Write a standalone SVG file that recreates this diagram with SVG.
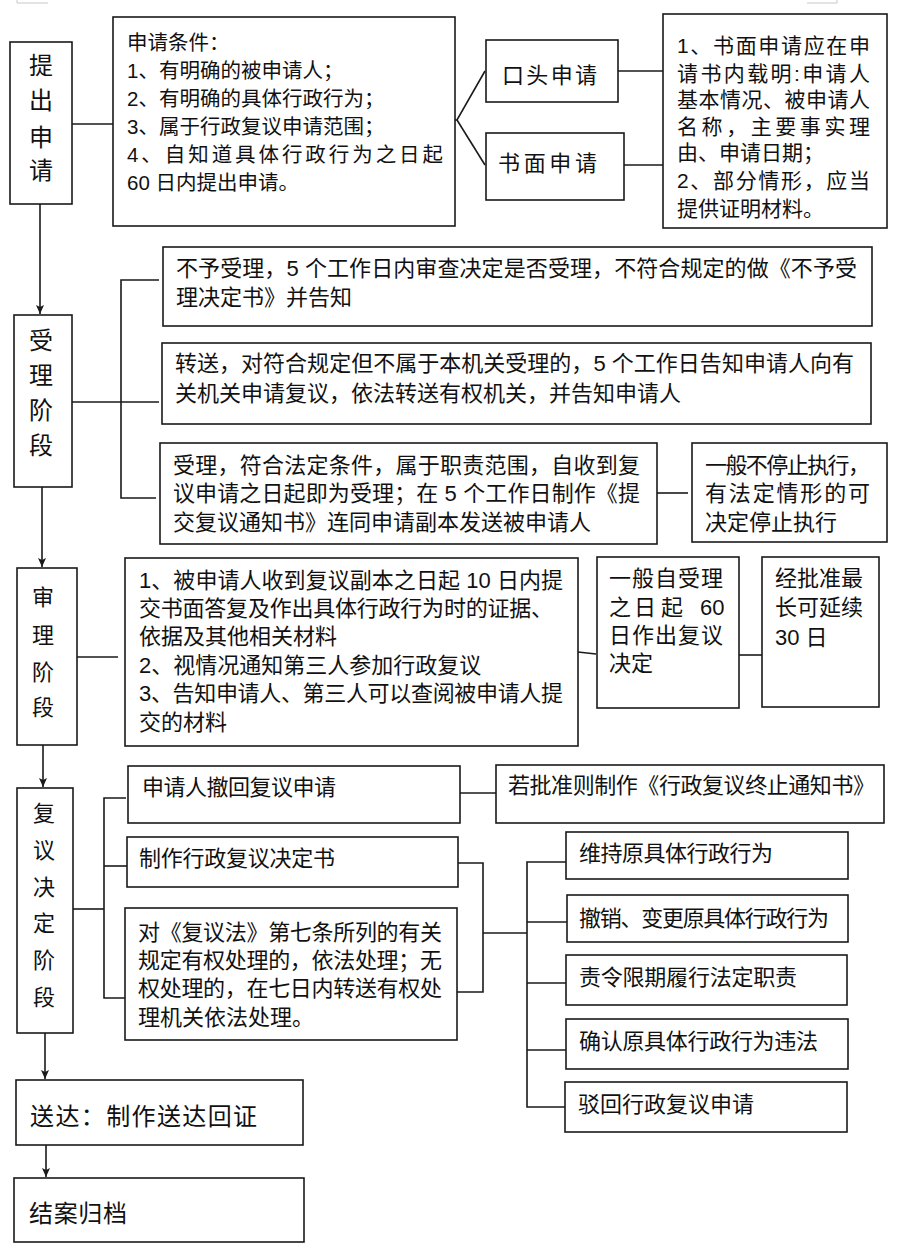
<svg xmlns="http://www.w3.org/2000/svg" width="900" height="1257" viewBox="0 0 900 1257">
<style>
.bx{fill:#fff;stroke:#1a1a1a;stroke-width:1.6}
.ln{fill:none;stroke:#1a1a1a;stroke-width:1.6}
.ar{fill:none;stroke:#1a1a1a;stroke-width:1.6;marker-end:url(#ah)}
text{font-family:"Liberation Sans","Noto Sans CJK SC","Noto Sans CJK JP",sans-serif;fill:#111;font-size:22px}
.s20{font-size:20.5px}
.s21{font-size:21px}
.s24{font-size:24px}
.v{text-anchor:middle;font-size:24px}
.v22{text-anchor:middle;font-size:22px}
</style>
<defs>
<marker id="ah" markerWidth="10" markerHeight="10" refX="9" refY="5" orient="auto" markerUnits="userSpaceOnUse">
<path d="M0,1 L9,5 L0,9 L2,5 Z" fill="#1a1a1a"/>
</marker>
</defs>
<rect width="900" height="1257" fill="#fff"/>
<g id="artifacts">
<polyline points="17,0 17,3 48,3" fill="none" stroke="#c8c8c8" stroke-width="1"/>
<polyline points="807,3 837,3 837,0" fill="none" stroke="#c8c8c8" stroke-width="1"/>
<rect x="391" y="312" width="2" height="2" fill="#5b9bd5"/>
</g>
<g id="connectors">
<line class="ln" x1="72" y1="124" x2="113" y2="124"/>
<polyline class="ln" points="455,120 457,120 485,71"/>
<line class="ln" x1="457" y1="120" x2="485" y2="165"/>
<line class="ln" x1="618" y1="71" x2="663" y2="71"/>
<line class="ln" x1="624" y1="165" x2="663" y2="165"/>
<line class="ar" x1="40" y1="204" x2="40" y2="314"/>
<line class="ln" x1="72" y1="402" x2="159" y2="402"/>
<polyline class="ln" points="159,280 121,280 121,498 156,498"/>
<line class="ln" x1="657" y1="493" x2="688" y2="493"/>
<line class="ar" x1="42" y1="487" x2="42" y2="567"/>
<line class="ln" x1="77" y1="657" x2="118" y2="657"/>
<line class="ln" x1="578" y1="652" x2="596" y2="654"/>
<line class="ln" x1="739" y1="655" x2="762" y2="655"/>
<line class="ar" x1="43" y1="745" x2="43" y2="787"/>
<line class="ln" x1="73" y1="909" x2="104" y2="909"/>
<polyline class="ln" points="126,798 104,798 104,998 125,998"/>
<line class="ln" x1="104" y1="866" x2="127" y2="866"/>
<line class="ln" x1="460" y1="793" x2="496" y2="793"/>
<polyline class="ln" points="458,863 483,863 483,992 457,992"/>
<line class="ln" x1="483" y1="933" x2="527" y2="933"/>
<polyline class="ln" points="566,862 527,862 527,1107 565,1107"/>
<line class="ln" x1="527" y1="922" x2="567" y2="922"/>
<line class="ln" x1="527" y1="983" x2="566" y2="983"/>
<line class="ln" x1="527" y1="1050" x2="566" y2="1050"/>
<line class="ar" x1="45" y1="1033" x2="45" y2="1079"/>
<line class="ar" x1="46" y1="1145" x2="46" y2="1177"/>
</g>
<g id="n-tichu">
<rect class="bx" x="10" y="42" width="62" height="162"/>
<text class="v" x="41" y="74">提</text>
<text class="v" x="41" y="109">出</text>
<text class="v" x="41" y="146">申</text>
<text class="v" x="41" y="179">请</text>
</g>
<g id="n-tiaojian">
<rect class="bx" x="113" y="17" width="342" height="209"/>
<text class="s20" x="127" y="50">申请条件：</text>
<text class="s20" x="127" y="78">1、有明确的被申请人；</text>
<text class="s20" x="127" y="106">2、有明确的具体行政行为；</text>
<text class="s20" x="127" y="134">3、属于行政复议申请范围；</text>
<text class="s20" x="127" y="162" textLength="316" lengthAdjust="spacing">4、自知道具体行政行为之日起</text>
<text class="s20" x="127" y="190">60 日内提出申请。</text>
</g>
<g id="n-koutou">
<rect class="bx" x="486" y="40" width="132" height="62"/>
<text x="502" y="83" textLength="95" lengthAdjust="spacing">口头申请</text>
</g>
<g id="n-shumian">
<rect class="bx" x="486" y="133" width="138" height="67"/>
<text x="498" y="171" textLength="99" lengthAdjust="spacing">书面申请</text>
</g>
<g id="n-shumian-note">
<rect class="bx" x="663" y="14" width="224" height="214"/>
<text class="s21" x="677" y="53" textLength="193" lengthAdjust="spacing">1、书面申请应在申</text>
<text class="s21" x="677" y="81" textLength="193" lengthAdjust="spacing">请书内载明:申请人</text>
<text class="s21" x="677" y="107" textLength="193" lengthAdjust="spacing">基本情况、被申请人</text>
<text class="s21" x="677" y="134" textLength="193" lengthAdjust="spacing">名称，主要事实理</text>
<text class="s21" x="677" y="160">由、申请日期；</text>
<text class="s21" x="677" y="188" textLength="193" lengthAdjust="spacing">2、部分情形，应当</text>
<text class="s21" x="677" y="216">提供证明材料。</text>
</g>
<g id="n-shouli-stage">
<rect class="bx" x="14" y="315" width="58" height="172"/>
<text class="v" x="41" y="349">受</text>
<text class="v" x="41" y="384">理</text>
<text class="v" x="41" y="419">阶</text>
<text class="v" x="41" y="454">段</text>
</g>
<g id="n-buyu">
<rect class="bx" x="163" y="247" width="709" height="79"/>
<text x="176" y="276" textLength="681" lengthAdjust="spacing">不予受理，5 个工作日内审查决定是否受理，不符合规定的做《不予受</text>
<text x="176" y="305">理决定书》并告知</text>
</g>
<g id="n-zhuansong">
<rect class="bx" x="162" y="343" width="709" height="81"/>
<text x="175" y="371" textLength="679" lengthAdjust="spacing">转送，对符合规定但不属于本机关受理的，5 个工作日告知申请人向有</text>
<text x="175" y="401">关机关申请复议，依法转送有权机关，并告知申请人</text>
</g>
<g id="n-shouli">
<rect class="bx" x="160" y="443" width="497" height="101"/>
<text x="173" y="473" textLength="467" lengthAdjust="spacing">受理，符合法定条件，属于职责范围，自收到复</text>
<text x="173" y="501" textLength="467" lengthAdjust="spacing">议申请之日起即为受理；在 5 个工作日制作《提</text>
<text x="173" y="530">交复议通知书》连同申请副本发送被申请人</text>
</g>
<g id="n-tingzhi">
<rect class="bx" x="692" y="443" width="195" height="99"/>
<text x="705" y="473" textLength="165" lengthAdjust="spacing">一般不停止执行，</text>
<text x="705" y="501" textLength="165" lengthAdjust="spacing">有法定情形的可</text>
<text x="705" y="530">决定停止执行</text>
</g>
<g id="n-shenli-stage">
<rect class="bx" x="17" y="568" width="60" height="177"/>
<text class="v22" x="43" y="605">审</text>
<text class="v22" x="43" y="643">理</text>
<text class="v22" x="43" y="680">阶</text>
<text class="v22" x="43" y="715">段</text>
</g>
<g id="n-shenli">
<rect class="bx" x="125" y="558" width="453" height="188"/>
<text x="139" y="588" textLength="424" lengthAdjust="spacing">1、被申请人收到复议副本之日起 10 日内提</text>
<text x="139" y="616" textLength="414" lengthAdjust="spacing">交书面答复及作出具体行政行为时的证据、</text>
<text x="139" y="644">依据及其他相关材料</text>
<text x="139" y="673">2、视情况通知第三人参加行政复议</text>
<text x="139" y="701" textLength="424" lengthAdjust="spacing">3、告知申请人、第三人可以查阅被申请人提</text>
<text x="139" y="730">交的材料</text>
</g>
<g id="n-60days">
<rect class="bx" x="597" y="557" width="142" height="151"/>
<text x="609" y="586" textLength="114" lengthAdjust="spacing">一般自受理</text>
<text x="609" y="615">之</text>
<text x="634" y="615">日</text>
<text x="661" y="615">起</text>
<text x="700" y="615">60</text>
<text x="609" y="643" textLength="114" lengthAdjust="spacing">日作出复议</text>
<text x="609" y="671">决定</text>
</g>
<g id="n-30days">
<rect class="bx" x="762" y="557" width="117" height="150"/>
<text x="775" y="586" textLength="88" lengthAdjust="spacing">经批准最</text>
<text x="775" y="615" textLength="88" lengthAdjust="spacing">长可延续</text>
<text x="775" y="645">30 日</text>
</g>
<g id="n-jueding-stage">
<rect class="bx" x="17" y="788" width="56" height="245"/>
<text class="v22" x="44" y="821">复</text>
<text class="v22" x="44" y="858">议</text>
<text class="v22" x="44" y="895">决</text>
<text class="v22" x="44" y="931">定</text>
<text class="v22" x="44" y="968">阶</text>
<text class="v22" x="44" y="1005">段</text>
</g>
<g id="n-chehui">
<rect class="bx" x="128" y="766" width="332" height="57"/>
<text x="142" y="795" textLength="194" lengthAdjust="spacing">申请人撤回复议申请</text>
</g>
<g id="n-zhongzhi">
<rect class="bx" x="496" y="765" width="388" height="58"/>
<text x="508" y="793" textLength="367" lengthAdjust="spacing">若批准则制作《行政复议终止通知书》</text>
</g>
<g id="n-juedingshu">
<rect class="bx" x="127" y="837" width="331" height="50"/>
<text x="139" y="866" textLength="196" lengthAdjust="spacing">制作行政复议决定书</text>
</g>
<g id="n-diqitiao">
<rect class="bx" x="125" y="908" width="332" height="132"/>
<text x="138" y="940" textLength="304" lengthAdjust="spacing">对《复议法》第七条所列的有关</text>
<text x="138" y="968" textLength="304" lengthAdjust="spacing">规定有权处理的，依法处理；无</text>
<text x="138" y="996" textLength="304" lengthAdjust="spacing">权处理的，在七日内转送有权处</text>
<text x="138" y="1025">理机关依法处理。</text>
</g>
<g id="n-weichi">
<rect class="bx" x="566" y="832" width="282" height="47"/>
<text x="579" y="861" textLength="194" lengthAdjust="spacing">维持原具体行政行为</text>
</g>
<g id="n-chexiao">
<rect class="bx" x="567" y="895" width="281" height="47"/>
<text x="579" y="926" textLength="250" lengthAdjust="spacing">撤销、变更原具体行政行为</text>
</g>
<g id="n-zeling">
<rect class="bx" x="566" y="955" width="281" height="50"/>
<text x="579" y="985" textLength="218" lengthAdjust="spacing">责令限期履行法定职责</text>
</g>
<g id="n-queren">
<rect class="bx" x="566" y="1019" width="282" height="50"/>
<text x="579" y="1049" textLength="239" lengthAdjust="spacing">确认原具体行政行为违法</text>
</g>
<g id="n-bohui">
<rect class="bx" x="565" y="1082" width="282" height="50"/>
<text x="578" y="1112">驳回行政复议申请</text>
</g>
<g id="n-songda">
<rect class="bx" x="16" y="1080" width="287" height="65"/>
<text class="s24" x="30" y="1125" textLength="227" lengthAdjust="spacing">送达：制作送达回证</text>
</g>
<g id="n-jiean">
<rect class="bx" x="14" y="1178" width="290" height="64"/>
<text class="s24" x="29" y="1222" textLength="98" lengthAdjust="spacing">结案归档</text>
</g>
</svg>
